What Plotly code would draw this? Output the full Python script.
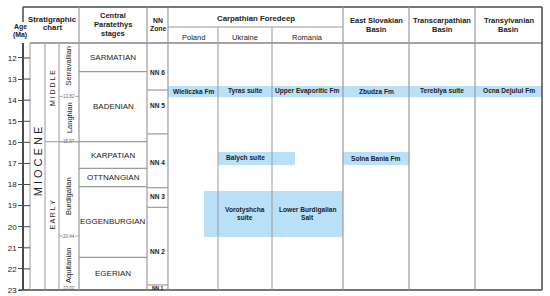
import plotly.graph_objects as go

# ---------------- data ----------------
age_ticks = list(range(12, 24))
age_top, age_bottom = 11.29, 23.0

epoch_name = "M I O C E N E"
epoch_label_age = 16.9
subepochs = ["M I D D L E", "E A R L Y"]
subepoch_label_age = [13.45, 19.45]
subepoch_boundary = 15.97

intl_stages = ["Serravallian", "Langhian", "Burdigalian", "Aquitanian"]
intl_label_age = [12.36, 14.85, 18.54, 21.86]
intl_boundaries = [13.82, 15.97, 20.44, 23.03]
intl_boundary_labels = ["13.82", "15.97", "20.44", "23.03"]

para_stages = ["SARMATIAN", "BADENIAN", "KARPATIAN", "OTTNANGIAN", "EGGENBURGIAN", "EGERIAN"]
para_bounds = [11.29, 12.65, 15.97, 17.23, 18.1, 21.45, 23.0]

nn_zones = ["NN 6", "NN 5", "NN 4", "NN 3", "NN 2", "NN 1"]
nn_bounds = [11.29, 13.52, 15.6, 18.15, 19.08, 22.76, 23.0]
nn_label_age = [12.71, 14.26, 16.95, 18.58, 21.19, 22.9]

basin_cols = ["Poland", "Ukraine", "Romania", "East Slovakian Basin",
              "Transcarpathian Basin", "Transylvanian Basin"]

form_names = ["Wieliczka Fm", "Tyras suite", "Upper Evaporitic Fm", "Zbudza Fm",
              "Tereblya suite", "Ocna Dejului Fm", "Balych suite", "Solna Bania Fm",
              "Vorotyshcha|suite", "Lower Burdigalian|Salt"]
form_col = [0, 1, 2, 3, 4, 5, 1, 3, 1, 2]
form_top = [13.32, 13.32, 13.32, 13.32, 13.32, 13.32, 16.44, 16.44, 18.29, 18.29]
form_bottom = [13.84, 13.84, 13.84, 13.84, 13.84, 13.84, 17.06, 17.06, 20.5, 20.5]
# extent of each coloured band, in column units (fractional column index)
form_span_start = [0, 1, 2, 3, 4, 5, 1, 3, 0.72, 2]
form_span_end = [1, 2, 3, 4, 5, 6, 2.33, 4, 2, 3]

# ---------------- layout constants ----------------
W, H = 550, 296
MT, MB = 43, 6
PH = H - MT - MB
PX_PER_MA = PH / (age_bottom - age_top)
FONT = "Liberation Sans, Arial, sans-serif"
TXT = "#222222"
FRAME = "#4a4a4a"
GRID = "#9a9a9a"
BLUE = "#b9e0f6"

X_AXIS = 23
X_STRAT = [30, 45, 59, 79]
X_PARA = [79, 147]
X_NN = [147, 168]
X_BASIN = [168, 218, 272, 343, 409, 475, 542]


def hy(py):
    """header pixel row -> paper y"""
    return 1 + (MT - py) / PH


def colx(c):
    i = int(c)
    if i >= len(X_BASIN) - 1:
        return X_BASIN[-1]
    f = c - i
    return X_BASIN[i] + f * (X_BASIN[i + 1] - X_BASIN[i])


fig = go.Figure()

# coloured formation bands as bars
bx, bw, bbase, bh = [], [], [], []
for s, e, t, b in zip(form_span_start, form_span_end, form_top, form_bottom):
    x0, x1 = colx(s), colx(e)
    bx.append((x0 + x1) / 2)
    bw.append(x1 - x0)
    bbase.append(t)
    bh.append(b - t)
fig.add_trace(go.Bar(x=bx, y=bh, base=bbase, width=bw, marker_color=BLUE,
                     marker_line_width=0, hoverinfo="skip", showlegend=False))

shapes = []
ann = []


def line(x0, y0, x1, y1, color=GRID, w=1, xref="x", yref="y"):
    shapes.append(dict(type="line", x0=x0, x1=x1, y0=y0, y1=y1, xref=xref, yref=yref,
                       line=dict(color=color, width=w)))


def text(x, y, s, size=8, bold=False, yref="y", angle=0, color=TXT, xanchor="center"):
    ann.append(dict(x=x, y=y, xref="x", yref=yref, text=("<b>%s</b>" % s) if bold else s,
                    showarrow=False, textangle=angle, xanchor=xanchor, yanchor="middle",
                    font=dict(family=FONT, size=size, color=color)))


# ---- frame and header lines ----
top = hy(7)
line(X_AXIS, top, X_BASIN[-1], top, FRAME, 1.5, yref="paper")
line(X_AXIS, top, X_AXIS, hy(22), FRAME, 1.5, yref="paper")
line(X_STRAT[0], 1, X_BASIN[-1], 1, FRAME, 1.2, yref="paper")
line(X_AXIS - 4, 0, X_BASIN[-1], 0, FRAME, 1.5, yref="paper")
line(X_BASIN[-1], 0, X_BASIN[-1], top, FRAME, 1.5, yref="paper")
for x in X_STRAT[:3]:
    line(x, 0, x, 1, GRID, 1, yref="paper")
for x in [X_PARA[0], X_NN[0], X_NN[1], X_BASIN[3], X_BASIN[4], X_BASIN[5]]:
    line(x, 0, x, top, GRID, 1.2, yref="paper")
line(X_BASIN[0], hy(27), X_BASIN[3], hy(27), GRID, 1, yref="paper")
for x in X_BASIN[1:3]:
    line(x, 0, x, hy(27), GRID, 1, yref="paper")

# age ticks inside portion
for a in age_ticks:
    line(X_AXIS, a, X_STRAT[0], a, FRAME, 1)

# sub-epoch boundary
line(X_STRAT[1], subepoch_boundary, X_STRAT[3], subepoch_boundary, GRID, 1)

# international stage boundary marks
for a, lab in zip(intl_boundaries, intl_boundary_labels):
    if a < age_bottom:
        line(X_STRAT[2], a, X_STRAT[2] + 4, a, GRID, 0.8)
        line(X_STRAT[3] - 4, a, X_STRAT[3], a, GRID, 0.8)
    text((X_STRAT[2] + X_STRAT[3]) / 2, min(a, age_bottom - 0.05), lab, size=4.5, color="#666666")

# paratethys stage boundaries & labels
for i, s in enumerate(para_stages):
    if i > 0:
        line(X_PARA[0], para_bounds[i], X_PARA[1], para_bounds[i], GRID, 1.2)
    text((X_PARA[0] + X_PARA[1]) / 2, (para_bounds[i] + para_bounds[i + 1]) / 2, s, size=8)

# NN zones
for i, z in enumerate(nn_zones):
    if i > 0:
        line(X_NN[0], nn_bounds[i], X_NN[1], nn_bounds[i], GRID, 1.2)
    text((X_NN[0] + X_NN[1]) / 2, nn_label_age[i], z, size=6.5 if i < 5 else 5, bold=True)

# formation labels
for n, c, t, b in zip(form_names, form_col, form_top, form_bottom):
    cx = (X_BASIN[c] + X_BASIN[c + 1]) / 2
    mid = (t + b) / 2
    parts = n.split("|")
    off = 3.9 / PX_PER_MA
    for k, p in enumerate(parts):
        yy = mid + (k - (len(parts) - 1) / 2) * 2 * off
        text(cx, yy, p, size=6.6, bold=True)

# stratigraphic chart rotated labels
text((X_STRAT[0] + X_STRAT[1]) / 2 + 0.5, epoch_label_age, epoch_name, size=11, angle=-90)
for s, a in zip(subepochs, subepoch_label_age):
    text((X_STRAT[1] + X_STRAT[2]) / 2 + 0.5, a, s, size=7, angle=-90)
for s, a in zip(intl_stages, intl_label_age):
    text((X_STRAT[2] + X_STRAT[3]) / 2, a, s, size=7.5, angle=-90)

# header texts
text(20, hy(26.8), "Age", 6.9, True, "paper")
text(20, hy(35), "(Ma)", 6.9, True, "paper")
text(52, hy(19.5), "Stratigraphic", 7.8, True, "paper")
text(52, hy(28), "chart", 7.8, True, "paper")
text(113, hy(15), "Central", 7.5, True, "paper")
text(113, hy(24), "Paratethys", 7.5, True, "paper")
text(113, hy(33), "stages", 7.5, True, "paper")
text(157.5, hy(20.8), "NN", 6.8, True, "paper")
text(157.5, hy(28.2), "Zone", 6.8, True, "paper")
text((X_BASIN[0] + X_BASIN[3]) / 2, hy(18), "Carpathian Foredeep", 7.8, True, "paper")
for i in range(3):
    text((X_BASIN[i] + X_BASIN[i + 1]) / 2, hy(37.5), basin_cols[i], 7.5, False, "paper")
for i in range(3, 6):
    name = basin_cols[i].rsplit(" ", 1)
    cx = (X_BASIN[i] + X_BASIN[i + 1]) / 2
    text(cx, hy(20.5), name[0], 7.5, True, "paper")
    text(cx, hy(29.2), name[1], 7.5, True, "paper")

fig.update_layout(
    width=W, height=H, margin=dict(l=0, r=0, t=MT, b=MB),
    paper_bgcolor="white", plot_bgcolor="white",
    shapes=shapes, annotations=ann, showlegend=False, bargap=0,
    xaxis=dict(range=[0, W], visible=False, fixedrange=True),
    yaxis=dict(range=[age_bottom, age_top], tickvals=age_ticks, ticks="outside", ticklen=4,
               tickcolor=FRAME, tickwidth=1, showline=True, linecolor=FRAME, linewidth=1.5,
               anchor="free", position=X_AXIS / W, showgrid=False, zeroline=False,
               tickfont=dict(family=FONT, size=8, color=TXT), fixedrange=True),
)

fig.write_html("out.html", config={"displayModeBar": False},
               post_script="document.body.style.margin='0';document.body.style.overflow='hidden';")
